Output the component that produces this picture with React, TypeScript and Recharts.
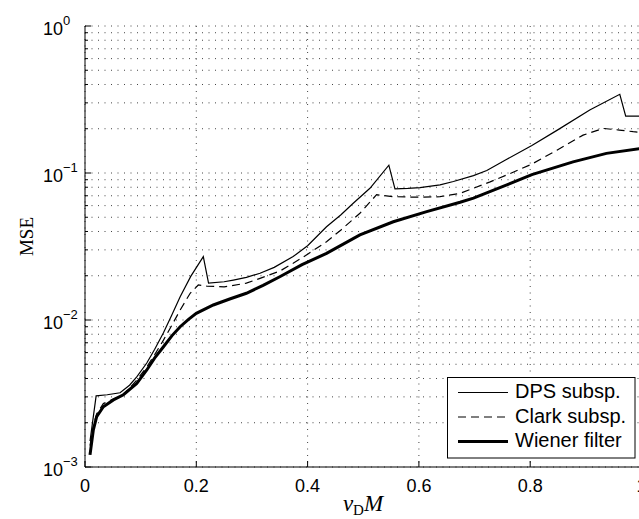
import { LineChart, Line, XAxis, YAxis, CartesianGrid } from 'recharts';

// values (x = nu_D * M, y = MSE)
const dpsX = [0.009, 0.02, 0.04, 0.063, 0.08, 0.093, 0.111, 0.125, 0.141, 0.156, 0.171, 0.19, 0.2126, 0.222, 0.25, 0.2666, 0.29, 0.3145, 0.34, 0.374, 0.4, 0.434, 0.46, 0.482, 0.512, 0.546, 0.557, 0.58, 0.602, 0.638, 0.662, 0.698, 0.722, 0.758, 0.803, 0.848, 0.907, 0.961, 0.9716, 1.0];
const dpsY = [0.0015, 0.00305, 0.0031, 0.0032, 0.0036, 0.0041, 0.0051, 0.0063, 0.0082, 0.0108, 0.0144, 0.0198, 0.027, 0.0178, 0.0182, 0.0187, 0.0195, 0.0208, 0.0228, 0.027, 0.032, 0.0431, 0.052, 0.0622, 0.0787, 0.113, 0.078, 0.0785, 0.0795, 0.083, 0.0875, 0.096, 0.104, 0.124, 0.154, 0.195, 0.268, 0.343, 0.244, 0.244];

const clarkX = [0.009, 0.015, 0.021, 0.033, 0.051, 0.069, 0.093, 0.111, 0.125, 0.141, 0.156, 0.171, 0.189, 0.2036, 0.219, 0.25, 0.29, 0.3145, 0.35, 0.374, 0.4, 0.434, 0.46, 0.494, 0.524, 0.554, 0.602, 0.638, 0.674, 0.698, 0.728, 0.758, 0.803, 0.848, 0.895, 0.931, 0.96, 0.985, 1.0];
const clarkY = [0.0014, 0.0019, 0.0023, 0.0027, 0.0029, 0.0031, 0.0039, 0.0048, 0.0058, 0.0073, 0.0092, 0.0117, 0.0152, 0.0173, 0.017, 0.0168, 0.0178, 0.0192, 0.0215, 0.0243, 0.028, 0.0341, 0.041, 0.0532, 0.0712, 0.069, 0.0684, 0.069, 0.0727, 0.0787, 0.087, 0.097, 0.115, 0.143, 0.181, 0.201, 0.196, 0.191, 0.189];

const wienerX = [0.009, 0.015, 0.021, 0.033, 0.051, 0.069, 0.093, 0.111, 0.125, 0.141, 0.156, 0.171, 0.186, 0.2, 0.2306, 0.26, 0.29, 0.32, 0.35, 0.39, 0.434, 0.494, 0.554, 0.614, 0.674, 0.698, 0.758, 0.803, 0.877, 0.937, 1.0];
const wienerY = [0.00121, 0.00179, 0.0022, 0.00257, 0.00286, 0.0031, 0.0037, 0.00457, 0.0055, 0.00658, 0.0078, 0.009, 0.0101, 0.0111, 0.01265, 0.0139, 0.0152, 0.0172, 0.0197, 0.0238, 0.0284, 0.0379, 0.0466, 0.0546, 0.0632, 0.0675, 0.083, 0.0975, 0.119, 0.136, 0.147];

const xTicks = [0, 0.2, 0.4, 0.6, 0.8, 1];
const xTickLabels = ['0', '0.2', '0.4', '0.6', '0.8', '1'];
const yTicks = [
  0.001, 0.002, 0.003, 0.004, 0.005, 0.006, 0.007, 0.008, 0.009,
  0.01, 0.02, 0.03, 0.04, 0.05, 0.06, 0.07, 0.08, 0.09,
  0.1, 0.2, 0.3, 0.4, 0.5, 0.6, 0.7, 0.8, 0.9,
  1,
];
const yDecades = [0.001, 0.01, 0.1, 1];
const yExponents = ['\u22123', '\u22122', '\u22121', '0'];

const legendNames = ['DPS subsp.', 'Clark subsp.', 'Wiener filter'];

const toPoints = (xs: number[], ys: number[]) => xs.map((x, i) => ({ x, y: ys[i] }));

const SANS = 'Liberation Sans, Arial, Helvetica, sans-serif';
const SERIF = 'Liberation Serif, Times New Roman, serif';

function YTick(props: any) {
  const { x, y, payload } = props;
  const idx = yDecades.findIndex(d => Math.abs(d - payload.value) < 1e-9);
  const major = idx >= 0;
  return (
    <g>
      <line x1={x} y1={y} x2={x + (major ? 6 : 3)} y2={y} stroke="#000" />
      {major && (
        <text x={x - 42} y={y + 9} fontFamily={SANS} fontSize={18} fill="#000">
          10
          <tspan dy={-10} fontSize={13}>{yExponents[idx]}</tspan>
        </text>
      )}
    </g>
  );
}

function XTick(props: any) {
  const { x, y, payload } = props;
  const idx = xTicks.findIndex(t => Math.abs(t - payload.value) < 1e-9);
  return (
    <g>
      <line x1={x} y1={y} x2={x} y2={y - 6} stroke="#000" />
      <text x={x} y={y + 25} textAnchor="middle" fontFamily={SANS} fontSize={18} fill="#000">
        {xTickLabels[idx]}
      </text>
    </g>
  );
}

function TopTick(props: any) {
  const { x, y } = props;
  return <line x1={x} y1={y} x2={x} y2={y + 6} stroke="#000" />;
}

function ChartLegend() {
  const rows = [
    { dash: undefined, width: 1.2 },
    { dash: '8 5', width: 1.2 },
    { dash: undefined, width: 3 },
  ];
  return (
    <svg width={189} height={82} style={{ position: 'absolute', left: 447, top: 377 }}>
      <rect x={0.5} y={0.5} width={187.5} height={80.5} fill="#fff" stroke="#000" />
      {legendNames.map((name, i) => (
        <g key={name}>
          <line x1={11} x2={61} y1={15.5 + i * 24.5} y2={15.5 + i * 24.5} stroke="#000"
            strokeWidth={rows[i].width} strokeDasharray={rows[i].dash} />
          <text x={68} y={21 + i * 24.5} fontFamily={SANS} fontSize={20} fill="#000">{name}</text>
        </g>
      ))}
    </svg>
  );
}

export default function App() {
  return (
    <div style={{ position: 'absolute', left: 0, top: 0, width: 639, height: 519, overflow: 'hidden', background: '#fff' }}>
      <LineChart width={660} height={519} margin={{ top: 26, right: 18.5, left: 0, bottom: 12 }}>
        <CartesianGrid stroke="#444" strokeDasharray="1 5.5" />
        <XAxis
          dataKey="x"
          type="number"
          domain={[0, 1]}
          ticks={xTicks}
          interval={0}
          allowDataOverflow
          height={40}
          tickSize={0}
          tickMargin={0}
          tick={<XTick />}
          axisLine={{ stroke: '#000' }}
          label={{
            content: () => (
              <text x={363} y={511} textAnchor="middle" fontFamily={SERIF} fontSize={23} fill="#000">
                <tspan fontStyle="italic">ν</tspan>
                <tspan fontSize={15} dy={4}>D</tspan>
                <tspan fontStyle="italic" dy={-4}>M</tspan>
              </text>
            ),
          }}
        />
        <XAxis
          xAxisId="top"
          orientation="top"
          type="number"
          domain={[0, 1]}
          ticks={xTicks}
          interval={0}
          height={0}
          tickSize={0}
          tickMargin={0}
          tick={<TopTick />}
          axisLine={{ stroke: '#000' }}
        />
        <YAxis
          type="number"
          scale="log"
          domain={[0.001, 1]}
          ticks={yTicks}
          interval={0}
          allowDataOverflow
          width={85}
          tickSize={0}
          tickMargin={0}
          tick={<YTick />}
          axisLine={{ stroke: '#000' }}
          label={{
            content: () => (
              <text x={33} y={236.5} transform="rotate(-90 33 236.5)" textAnchor="middle"
                fontFamily={SERIF} fontSize={19} fill="#000">MSE</text>
            ),
          }}
        />
        <Line data={toPoints(dpsX, dpsY)} dataKey="y" type="linear" dot={false} activeDot={false}
          stroke="#000" strokeWidth={1.2} isAnimationActive={false} />
        <Line data={toPoints(clarkX, clarkY)} dataKey="y" type="linear" dot={false} activeDot={false}
          stroke="#000" strokeWidth={1.2} strokeDasharray="8 5" isAnimationActive={false} />
        <Line data={toPoints(wienerX, wienerY)} dataKey="y" type="linear" dot={false} activeDot={false}
          stroke="#000" strokeWidth={3} isAnimationActive={false} />
      </LineChart>
      <ChartLegend />
    </div>
  );
}
